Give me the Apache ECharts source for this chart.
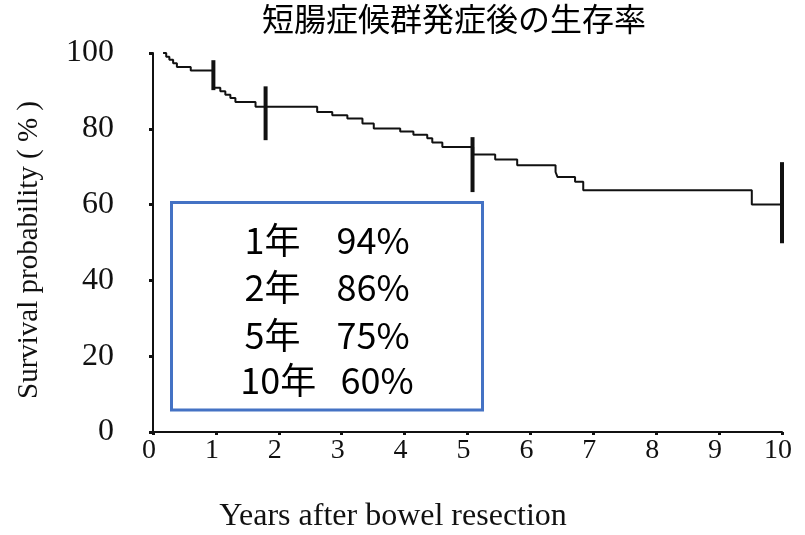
<!DOCTYPE html>
<html>
<head>
<meta charset="utf-8">
<script src="https://cdn.jsdelivr.net/npm/echarts@6/dist/echarts.min.js"></script>
<style>
html,body{margin:0;padding:0;background:#fff;}
#chart{width:805px;height:535px;}
</style>
</head>
<body>
<div id="chart"></div>
<script>
// Kaplan-Meier step curve (years, survival %)
var times = [0.16, 0.21, 0.26, 0.32, 0.38, 0.60, 0.96, 1.07, 1.15, 1.23, 1.31, 1.63, 2.61, 2.85, 3.09, 3.33, 3.51, 3.93, 4.14, 4.36, 4.44, 4.60, 5.09, 5.44, 5.79, 6.40, 6.43, 6.71, 6.84, 9.52, 10.45];
var survival = [100, 99.0, 98.2, 97.3, 96.3, 95.4, 90.8, 89.9, 89.0, 88.1, 87.1, 85.8, 84.4, 83.6, 82.7, 81.4, 80.1, 79.3, 78.4, 77.5, 76.4, 75.2, 73.2, 71.9, 70.4, 68.6, 67.3, 66.0, 63.8, 60.0, 60.0];

// vertical bars on the curve
var barX = [0.96, 1.79, 5.08, 10.0];
var barLow = [90.2, 77.0, 63.3, 49.8];
var barHigh = [98.1, 91.2, 77.8, 71.2];

var xTicks = [0, 1, 2, 3, 4, 5, 6, 7, 8, 9, 10];
var yTicks = [0, 20, 40, 60, 80, 100];

var titleText = '短腸症候群発症後の生存率';
var xName = 'Years after bowel resection';
var yName = 'Survival probability ( % )';

var boxLines = ['1年　94%', '2年　86%', '5年　75%', '10年   60%'];

var chart = echarts.init(document.getElementById('chart'), null, {renderer: 'canvas'});

var curveData = times.map(function (t, i) { return [t, survival[i]]; });
var barData = barX.map(function (x, i) { return [x, barLow[i], barHigh[i]]; });

var serif = '"Liberation Serif", "DejaVu Serif", serif';
var cjk = '"Noto Sans CJK JP", "Noto Sans", sans-serif';

var graphics = [
  {
    type: 'text', left: 262, top: 3, z: 10,
    style: { text: titleText, font: '32px ' + cjk, fill: '#000' }
  },
  {
    type: 'text', x: 393, y: 517, z: 10,
    style: { text: xName, font: '32px ' + serif, fill: '#111', textAlign: 'center', textVerticalAlign: 'middle' }
  },
  {
    type: 'text', x: 29, y: 250, rotation: Math.PI / 2, z: 10,
    style: { text: yName, font: '29px ' + serif, fill: '#111', textAlign: 'center', textVerticalAlign: 'middle' }
  },
  {
    type: 'rect', z: 20,
    shape: { x: 171.5, y: 202.5, width: 311, height: 207.5 },
    style: { fill: '#fff', stroke: '#4472C4', lineWidth: 3 }
  }
];
var lineYs = [240, 287.5, 335, 380.5];
boxLines.forEach(function (s, i) {
  graphics.push({
    type: 'text', x: 327, y: lineYs[i], z: 21,
    style: { text: s, font: '36px ' + cjk, fill: '#000', textAlign: 'center', textVerticalAlign: 'middle' }
  });
});

chart.setOption({
  backgroundColor: '#fff',
  animation: false,
  grid: { left: 153, right: 23, top: 53, bottom: 103, containLabel: false },
  xAxis: {
    type: 'value', min: 0, max: 10, interval: 1,
    axisLine: { show: true, onZero: false, lineStyle: { color: '#111', width: 2 } },
    axisTick: { show: true, length: 3, lineStyle: { color: '#111', width: 3 } },
    axisLabel: { fontFamily: 'Liberation Serif', fontSize: 28, color: '#111', margin: 5, padding: [0, 8, 0, 0],
      formatter: function (v) { return xTicks.indexOf(v) >= 0 ? String(v) : ''; } },
    splitLine: { show: false }
  },
  yAxis: {
    type: 'value', min: 0, max: 100, interval: 20,
    axisLine: { show: true, lineStyle: { color: '#111', width: 2 } },
    axisTick: { show: true, length: 4, lineStyle: { color: '#111', width: 3 } },
    axisLabel: { fontFamily: 'Liberation Serif', fontSize: 32, color: '#111', margin: 39,
      formatter: function (v) { return yTicks.indexOf(v) >= 0 ? String(v) : ''; } },
    splitLine: { show: false }
  },
  series: [
    {
      type: 'line', data: curveData, step: 'end', showSymbol: false, clip: false,
      lineStyle: { color: '#111', width: 2 }
    },
    {
      type: 'custom', data: barData, clip: false,
      renderItem: function (params, api) {
        var p1 = api.coord([api.value(0), api.value(1)]);
        var p2 = api.coord([api.value(0), api.value(2)]);
        return {
          type: 'line',
          shape: { x1: p1[0], y1: p1[1], x2: p2[0], y2: p2[1] },
          style: { stroke: '#111', lineWidth: 4 }
        };
      }
    }
  ],
  graphic: graphics
});
</script>
</body>
</html>
